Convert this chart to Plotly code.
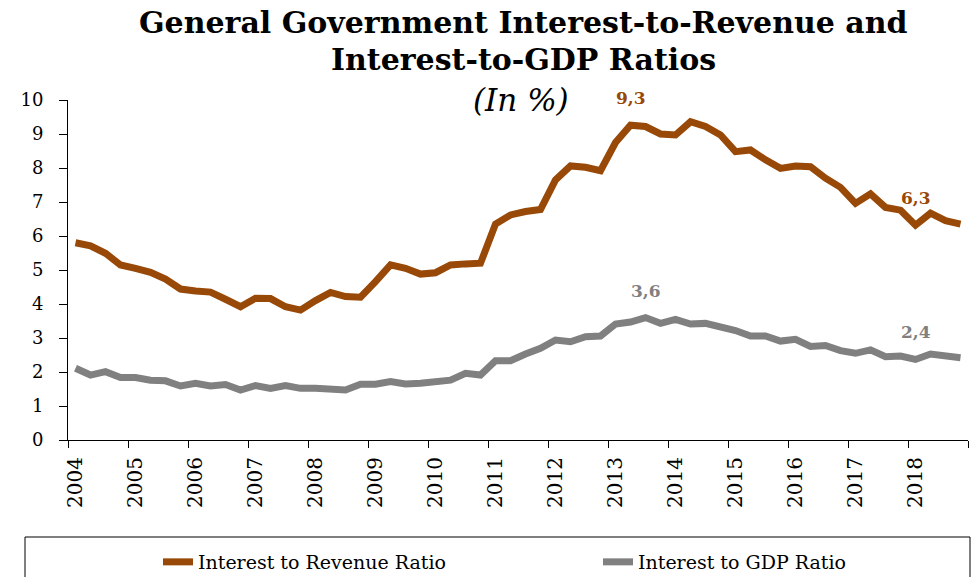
import plotly.graph_objects as go

# Quarterly observations, 2004Q1 .. 2018Q4
years = list(range(2004, 2019))
quarters = [f"{y}Q{q}" for y in years for q in range(1, 5)]

interest_to_revenue = [
    5.80, 5.71, 5.49, 5.15, 5.05, 4.93, 4.73, 4.44, 4.38, 4.35, 4.14, 3.92,
    4.17, 4.16, 3.92, 3.82, 4.10, 4.34, 4.22, 4.20, 4.66, 5.15, 5.05, 4.88,
    4.92, 5.15, 5.18, 5.20, 6.35, 6.62, 6.72, 6.78, 7.65, 8.06, 8.02, 7.92,
    8.75, 9.26, 9.22, 9.00, 8.97, 9.36, 9.22, 8.97, 8.48, 8.53, 8.24, 7.99,
    8.06, 8.04, 7.70, 7.43, 6.96, 7.24, 6.84, 6.76, 6.32, 6.67, 6.45, 6.35,
]
interest_to_gdp = [
    2.11, 1.91, 2.01, 1.84, 1.84, 1.76, 1.74, 1.59, 1.67, 1.59, 1.63, 1.47,
    1.60, 1.52, 1.60, 1.52, 1.52, 1.52, 1.47, 1.64, 1.64, 1.72, 1.65, 1.67,
    1.72, 1.76, 1.96, 1.91, 2.33, 2.33, 2.53, 2.70, 2.94, 2.89, 3.04, 3.06,
    3.41, 3.47, 3.60, 3.43, 3.55, 3.41, 3.43, 3.35, 3.22, 3.06, 3.06, 2.91,
    2.96, 2.75, 2.78, 2.63, 2.55, 2.65, 2.45, 2.47, 2.37, 2.53, 2.47, 2.42,
]

# Indices of the points that carry a value label
revenue_labels = [37, 56]
gdp_labels = [38, 56]

title_lines = ["General Government Interest-to-Revenue and", "Interest-to-GDP Ratios"]
subtitle = "(In %)"

BROWN = "#984807"
GREY = "#808080"
SERIF = "DejaVu Serif"

# plot-area geometry in pixels (used to place text in paper coordinates)
W, H = 973, 577
L, R, T, B = 68, 5, 100, 137
PW, PH = W - L - R, H - T - B


def px_x(p):
    return (p - L) / PW


def px_y(p):
    return (H - B - p) / PH


x = list(range(len(quarters)))
year_pos = [4 * k for k in range(len(years))]
year_bounds = [4 * k - 0.5 for k in range(len(years) + 1)]

fig = go.Figure()
fig.add_trace(go.Scatter(
    x=x, y=interest_to_revenue, mode="lines", name="Interest to Revenue Ratio",
    line=dict(color=BROWN, width=7), hoverinfo="skip", legend="legend",
))
fig.add_trace(go.Scatter(
    x=x, y=interest_to_gdp, mode="lines", name="Interest to GDP Ratio",
    line=dict(color=GREY, width=7), hoverinfo="skip", legend="legend2",
))
# empty trace on the overlay axis so the year-boundary ticks get drawn
fig.add_trace(go.Scatter(
    x=[x[0], x[-1]], y=[None, None], xaxis="x2", showlegend=False,
    hoverinfo="skip", mode="lines",
))


def fmt(v):
    return f"{v:.1f}".replace(".", ",")


annotations = []
for i in revenue_labels:
    annotations.append(dict(
        x=i, y=interest_to_revenue[i], text=f"<b>{fmt(interest_to_revenue[i])}</b>",
        showarrow=False, yshift=27, font=dict(family=SERIF, size=17, color=BROWN),
    ))
for i in gdp_labels:
    annotations.append(dict(
        x=i, y=interest_to_gdp[i], text=f"<b>{fmt(interest_to_gdp[i])}</b>",
        showarrow=False, yshift=27, font=dict(family=SERIF, size=17, color=GREY),
    ))
for text, ypx in zip(title_lines, [23, 60]):
    annotations.append(dict(
        xref="paper", yref="paper", x=px_x(523), y=px_y(ypx), yanchor="middle",
        text=f"<b>{text}</b>", showarrow=False,
        font=dict(family=SERIF, size=30, color="black"),
    ))
annotations.append(dict(
    xref="paper", yref="paper", x=px_x(521), y=px_y(100), yanchor="middle",
    text=f"<i>{subtitle}</i>", showarrow=False,
    font=dict(family=SERIF, size=31, color="black"),
))

# legends are placed in container coordinates so they do not push the margins
legend_common = dict(
    orientation="h", xanchor="left", yref="container",
    y=(H - 562) / H, yanchor="middle",
    font=dict(family=SERIF, size=19, color="black"), bgcolor="rgba(0,0,0,0)",
)

fig.update_layout(
    width=W, height=H,
    margin=dict(l=L, r=R, t=T, b=B),
    paper_bgcolor="white", plot_bgcolor="white",
    xaxis=dict(
        range=[-0.5, len(quarters) - 0.5], tickmode="array",
        tickvals=year_pos, ticktext=[str(y) for y in years], tickangle=-90,
        ticks="", showgrid=False, zeroline=False, ticklabelstandoff=8,
        showline=True, linecolor="black", linewidth=1,
        tickfont=dict(family=SERIF, size=20, color="black"),
    ),
    xaxis2=dict(
        overlaying="x", range=[-0.5, len(quarters) - 0.5], tickmode="array",
        tickvals=year_bounds, showticklabels=False, ticks="outside",
        ticklen=7, tickcolor="black", showgrid=False, zeroline=False,
        side="bottom", anchor="y",
    ),
    yaxis=dict(
        range=[0, 10], dtick=1, ticks="outside", ticklen=8, tickcolor="black",
        showgrid=False, zeroline=False, showline=True, linecolor="black",
        linewidth=1, ticklabelstandoff=12,
        tickfont=dict(family=SERIF, size=18, color="black"),
    ),
    legend=dict(x=px_x(158), **legend_common),
    legend2=dict(x=px_x(598), **legend_common),
    shapes=[dict(
        type="rect", xref="paper", yref="paper",
        x0=px_x(25), x1=px_x(970), y0=px_y(537), y1=px_y(600),
        line=dict(color="black", width=1), fillcolor="rgba(0,0,0,0)",
    )],
    annotations=annotations,
    showlegend=True,
)

fig.write_html("out.html")
